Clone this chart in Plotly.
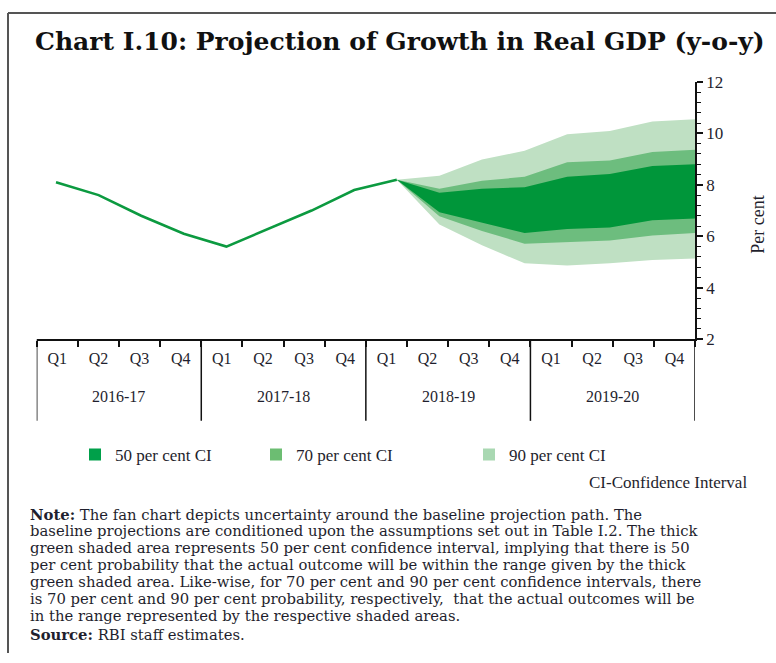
import plotly.graph_objects as go

# ---------------- data ----------------
years = ["2016-17", "2017-18", "2018-19", "2019-20"]
quarters = ["Q1", "Q2", "Q3", "Q4"]
cat_quarters = [q for y in years for q in quarters]
cat_idx = list(range(len(cat_quarters)))
year_centers = [1.5, 5.5, 9.5, 13.5]
year_bounds = [-0.5, 3.5, 7.5, 11.5, 15.5]

actual_idx = list(range(9))
actual_gdp = [8.1, 7.6, 6.8, 6.1, 5.6, 6.3, 7.0, 7.8, 8.2]

fan_idx = list(range(8, 16))
ci90_upper = [8.2, 8.35, 8.98, 9.32, 9.96, 10.09, 10.46, 10.55]
ci70_upper = [8.2, 7.85, 8.16, 8.31, 8.88, 8.94, 9.27, 9.36]
ci50_upper = [8.2, 7.69, 7.85, 7.91, 8.31, 8.42, 8.73, 8.80]
ci50_lower = [8.2, 6.93, 6.53, 6.13, 6.28, 6.34, 6.62, 6.69]
ci70_lower = [8.2, 6.78, 6.21, 5.71, 5.77, 5.84, 6.03, 6.13]
ci90_lower = [8.2, 6.46, 5.65, 4.95, 4.87, 4.95, 5.08, 5.14]

legend_names = ["50 per cent CI", "70 per cent CI", "90 per cent CI"]
band_colors = ["#00963a", "#6dbd7e", "#bfe0c3"]
legend_colors = ["#00a04a", "#6cbd72", "#a9d8b2"]

note_lines = [
    "<b>Note:</b> The fan chart depicts uncertainty around the baseline projection path. The",
    "baseline projections are conditioned upon the assumptions set out in Table I.2. The thick",
    "green shaded area represents 50 per cent confidence interval, implying that there is 50",
    "per cent probability that the actual outcome will be within the range given by the thick",
    "green shaded area. Like-wise, for 70 per cent and 90 per cent confidence intervals, there",
    "is 70 per cent and 90 per cent probability, respectively,  that the actual outcomes will be",
    "in the range represented by the respective shaded areas.",
    "<b>Source:</b> RBI staff estimates.",
]

W, H = 776, 663
SERIF = "Liberation Serif"
NOTE_FONT = "DejaVu Serif"
TXT = "#1f1f2e"

fig = go.Figure()

def band(upper, lower, color):
    xs = fan_idx + fan_idx[::-1]
    ys = upper + lower[::-1]
    return go.Scatter(x=xs, y=ys, fill="toself", fillcolor=color, mode="lines",
                      line=dict(width=0), showlegend=False, hoverinfo="skip",
                      xaxis="x2", yaxis="y")

fig.add_trace(band(ci90_upper, ci90_lower, band_colors[2]))
fig.add_trace(band(ci70_upper, ci70_lower, band_colors[1]))
fig.add_trace(band(ci50_upper, ci50_lower, band_colors[0]))

fig.add_trace(go.Scatter(x=actual_idx, y=actual_gdp, mode="lines",
                         line=dict(color="#0c9a40", width=2.6), showlegend=False,
                         xaxis="x2", yaxis="y"))

legend_keys = ["legend", "legend2", "legend3"]
for name, col, lk in zip(legend_names, legend_colors, legend_keys):
    fig.add_trace(go.Scatter(x=[None], y=[None], mode="markers", name=name,
                             marker=dict(symbol="square", size=12, color=col),
                             legend=lk, xaxis="x2", yaxis="y"))

x0, x1 = 36.7 / W, 695 / W
y0, y1 = 1 - 340 / H, 1 - 75 / H

fig.update_layout(
    width=W, height=H, autosize=False,
    margin=dict(l=0, r=0, t=0, b=0),
    paper_bgcolor="white", plot_bgcolor="white",
    font=dict(family=SERIF, color=TXT, size=15),
    xaxis=dict(domain=[x0, x1], anchor="y", range=[-0.5, 15.5],
               tickmode="array", tickvals=cat_idx, ticktext=cat_quarters, ticks="",
               ticklabelstandoff=4,
               minor=dict(tickmode="array", tickvals=[i - 0.5 for i in cat_idx] + [15.5],
                          ticks="outside", ticklen=6, tickcolor="#111", tickwidth=1.5),
               showline=True, linecolor="#111", linewidth=1.5,
               tickfont=dict(family=SERIF, size=16, color=TXT),
               showgrid=False, zeroline=False),
    xaxis2=dict(overlaying="x", anchor="y", range=[-0.453, 15], visible=False,
                showgrid=False, zeroline=False),
    yaxis=dict(domain=[y0, y1], range=[2, 12], side="right", anchor="x",
               dtick=2, ticks="outside", ticklen=6, tickcolor="#111", tickwidth=1.5,
               minor=dict(dtick=0.4, ticks="outside", ticklen=4, tickcolor="#111", tickwidth=1),
               showline=True, linecolor="#111", linewidth=1.5,
               tickfont=dict(family=SERIF, size=17, color=TXT),
               showgrid=False, zeroline=False),
    yaxis2=dict(overlaying="y", side="right", anchor="x", range=[2, 12], dtick=2,
                ticks="inside", ticklen=6, tickcolor="#111", tickwidth=1.5,
                showticklabels=False, showline=False, showgrid=False, zeroline=False),
    showlegend=True,
)

leg_common = dict(orientation="h", yanchor="middle", y=1 - 459 / H, xanchor="left",
                  bgcolor="rgba(0,0,0,0)", borderwidth=0,
                  font=dict(family=SERIF, size=17, color=TXT))
fig.update_layout(
    legend=dict(x=(94 - 19) / W, **leg_common),
    legend2=dict(x=(278 - 22) / W, **leg_common),
    legend3=dict(x=(488 - 19) / W, **leg_common),
)

annotations = [
    dict(text="<b>Chart I.10: Projection of Growth in Real GDP (y-o-y)</b>",
         x=33 / W, y=1 - 33 / H, xref="paper", yref="paper", xanchor="left", yanchor="middle",
         showarrow=False, font=dict(family="DejaVu Serif", size=25, color="#111")),
    dict(text="Per cent", x=758 / W, y=1 - 222 / H, xref="paper", yref="paper",
         xanchor="center", yanchor="middle", textangle=-90, showarrow=False,
         font=dict(family=SERIF, size=18, color=TXT)),
    dict(text="CI-Confidence Interval", x=749 / W, y=1 - 487 / H, xref="paper", yref="paper",
         xanchor="right", yanchor="middle", showarrow=False,
         font=dict(family=SERIF, size=17, color=TXT)),
]
for yc, ylab in zip(year_centers, years):
    annotations.append(dict(text=ylab, x=yc, y=1 - 399 / H, xref="x", yref="paper",
                            xanchor="center", yanchor="middle", showarrow=False,
                            font=dict(family=SERIF, size=16, color=TXT)))
note_y = [520, 537, 554, 572, 589, 607, 624, 644]
for line, yy in zip(note_lines, note_y):
    annotations.append(dict(text=line, x=28 / W, y=1 - yy / H, xref="paper", yref="paper",
                            xanchor="left", yanchor="middle", showarrow=False,
                            font=dict(family=NOTE_FONT, size=14.8, color=TXT)))
fig.update_layout(annotations=annotations)

# year dividers below the axis
for b in year_bounds:
    fig.add_shape(type="line", xref="x", yref="paper", x0=b, x1=b,
                  y0=y0, y1=1 - 424 / H, line=dict(color="#111", width=1.5))

# outer frame (top and left edges)
fig.add_shape(type="line", xref="paper", yref="paper", x0=8 / W, x1=1, y0=1 - 4 / H, y1=1 - 4 / H,
              line=dict(color="#555", width=2))
fig.add_shape(type="line", xref="paper", yref="paper", x0=8 / W, x1=8 / W, y0=0, y1=1 - 4 / H,
              line=dict(color="#555", width=2))

fig.write_html("out.html", config={"displayModeBar": False},
               post_script="document.body.style.margin='0';document.body.style.overflow='hidden';")
